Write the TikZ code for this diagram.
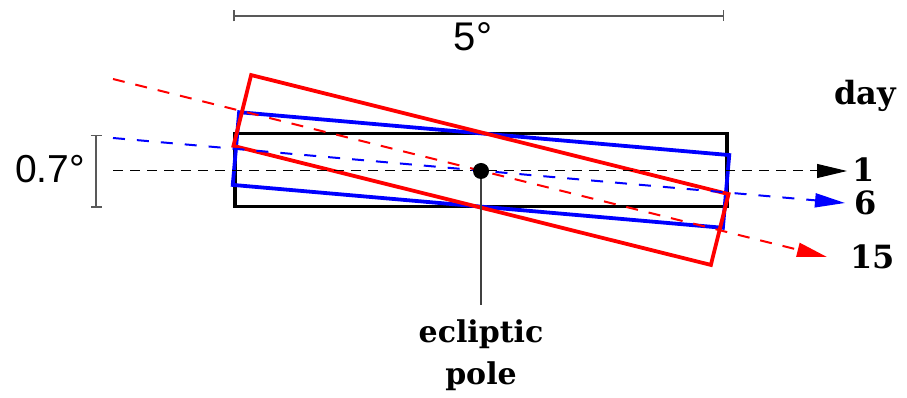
\documentclass[tikz,border=0pt]{standalone}
\usepackage{fontspec}
\setmainfont{DejaVu Serif}
\newfontfamily\scalefont{Liberation Sans}
\usetikzlibrary{arrows.meta}
\begin{document}
\begin{tikzpicture}[x=1pt, y=1pt,
    field/.style={draw, line width=3.8pt, minimum width=492pt, minimum height=73pt, inner sep=0pt},
    track/.style={-{Triangle[length=30pt, width=14pt]}},
    daylabel/.style={anchor=base west, inner sep=0pt, font=\fontsize{32}{32}\selectfont\bfseries},
    polelabel/.style={anchor=base, inner sep=0pt, font=\fontsize{30}{30}\selectfont\bfseries},
    bar/.style={draw=black!65, line width=1.5pt, {Bar[width=11pt]}-{Bar[width=11pt]}}]
  \useasboundingbox (0,0) rectangle (907,398);
  \coordinate (cen) at (481,228);
  % field of view on day 1, 6 and 15
  \node[field] (f1) at (cen) {};
  \node[field, draw=blue, rotate=-5] (f6) at (cen) {};
  \node[field, draw=red, rotate=-14] (f15) at (cen) {};
  % day labels
  \node[daylabel] (day) at (834,293) {day};
  \node[daylabel] (d1) at (852,216) {1};
  \node[daylabel] (d6) at (854,183) {6};
  \node[daylabel] (d15) at (850,129) {15};
  % scan directions
  \coordinate (s1) at (113,227);
  \coordinate (e1) at (847,227);
  \coordinate (s6) at (113,260);
  \coordinate (e6) at (845,195);
  \coordinate (s15) at (113,319);
  \coordinate (e15) at (827,141);
  \draw[track, line width=1pt, dash pattern=on 10pt off 7pt] (s1) -- (e1);
  \draw[track, blue, line width=2pt, dash pattern=on 12pt off 12pt] (s6) -- (e6);
  \draw[track, red, line width=2pt, dash pattern=on 12pt off 11pt] (s15) -- (e15);
  % ecliptic pole
  \node[circle, fill, minimum size=16pt, inner sep=0pt] (pole) at (481,227) {};
  \coordinate (foot) at (481,93);
  \draw[black!75, line width=1.2pt] (pole) -- (foot);
  \node[polelabel] (ecl) at (481,55) {ecliptic};
  \node[polelabel] (pl) at (481,13) {pole};
  % scale bars
  \coordinate (wl) at (233,382);
  \coordinate (wr) at (724,382);
  \draw[bar] (wl) -- (wr);
  \node[font=\fontsize{40}{40}\selectfont\scalefont] (wlab) at (473,361) {5°};
  \coordinate (hb) at (96,263);
  \coordinate (ht) at (96,190);
  \draw[bar] (hb) -- (ht);
  \node[font=\fontsize{39}{39}\selectfont\scalefont] (hlab) at (50,229) {0.7°};
\end{tikzpicture}
\end{document}
